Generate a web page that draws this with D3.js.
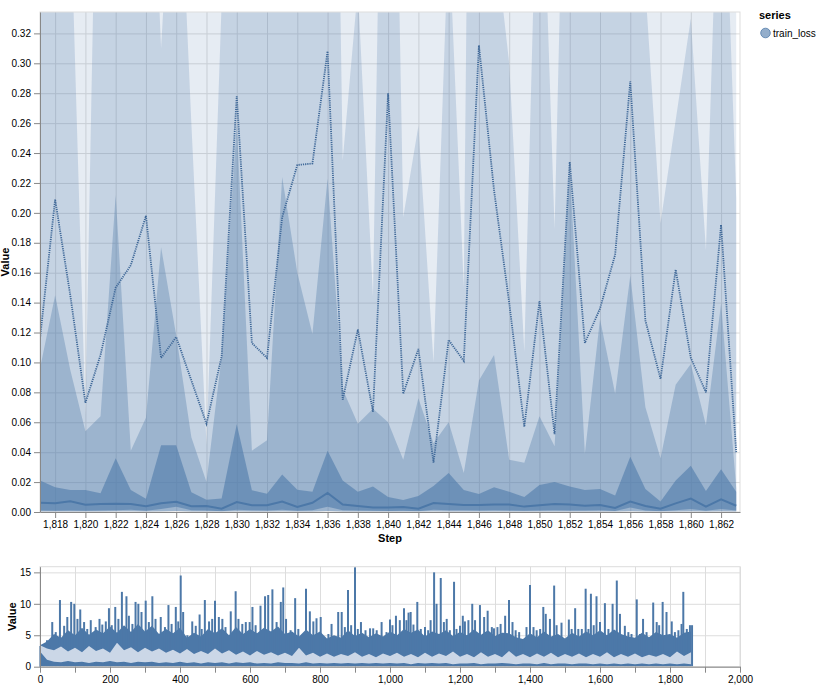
<!DOCTYPE html>
<html>
<head>
<meta charset="utf-8">
<script src="https://cdn.jsdelivr.net/npm/d3@7"></script>
<style>
body { margin: 0; background: #fff; }
text { font-family: "Liberation Sans", Arial, Helvetica, sans-serif; }
</style>
</head>
<body>
<div id="chart"></div>
<script>
// ---- detail view: steps 1817..1863 ----
const steps = [1817, 1818, 1819, 1820, 1821, 1822, 1823, 1824, 1825, 1826, 1827, 1828, 1829, 1830, 1831, 1832,
    1833, 1834, 1835, 1836, 1837, 1838, 1839, 1840, 1841, 1842, 1843, 1844, 1845, 1846, 1847, 1848,
    1849, 1850, 1851, 1852, 1853, 1854, 1855, 1856, 1857, 1858, 1859, 1860, 1861, 1862, 1863]

// outer band (runs off the top of the view everywhere)
const maxVals = [0.52, 0.61, 0.73, 0.48, 0.66, 0.8, 0.58, 0.7, 0.55, 0.62, 0.5, 0.45, 0.57, 0.95, 0.6, 0.52,
    0.7, 0.66, 0.68, 1.1, 0.49, 0.58, 0.46, 0.9, 0.5, 0.6, 0.42, 0.63, 0.55, 1.2, 0.7, 0.6,
    0.45, 0.62, 0.44, 0.85, 0.56, 0.64, 0.7, 0.98, 0.6, 0.5, 0.66, 0.57, 0.5, 0.8, 0.4]
const minVals = [0.0002, 0.0001, 0.0002, 0.0001, 0.0002, 0.0003, 0.0003, 0.0001, 0.0004, 0.0006, 0.0002, 0.0002, 0.0001, 0.0003, 0.0002, 0.0002,
    0.0003, 0.0001, 0.0002, 0.0006, 0.0002, 0.0002, 0.0001, 0.0001, 0.0001, 0.0001, 0.0003, 0.0002, 0.0002, 0.0002, 0.0002, 0.0002,
    0.0001, 0.0002, 0.0002, 0.0002, 0.0002, 0.0002, 0.0001, 0.0005, 0.0002, 0.0001, 0.0002, 0.0004, 0.0001, 0.0004, 0.0002]
const bandBHi = [0.45, 0.50, 0.41, 0.065, 0.60, 0.62, 0.50, 0.55, 0.31, 0.49, 0.26, 0.045, 0.34, 0.62, 0.50, 0.48,
    0.58, 0.55, 0.60, 0.90, 0.235, 0.35, 0.144, 0.75, 0.197, 0.258, 0.100, 0.39, 0.15, 1.2, 0.39, 0.30,
    0.107, 0.50, 0.189, 0.62, 0.55, 0.50, 0.58, 0.70, 0.35, 0.193, 0.262, 0.33, 0.175, 0.50, 0.21]
const bandCHi = [0.096, 0.145, 0.095, 0.054, 0.064, 0.212, 0.041, 0.063, 0.177, 0.118, 0.050, 0.020, 0.104, 0.260, 0.041, 0.048,
    0.224, 0.160, 0.119, 0.223, 0.082, 0.059, 0.069, 0.060, 0.035, 0.076, 0.046, 0.060, 0.026, 0.088, 0.105, 0.035,
    0.033, 0.064, 0.044, 0.231, 0.039, 0.129, 0.079, 0.158, 0.070, 0.036, 0.085, 0.099, 0.058, 0.1395, 0.016]
const bandDHi = [0.021, 0.0165, 0.0147, 0.0147, 0.0125, 0.036, 0.0147, 0.0088, 0.0447, 0.0447, 0.0132, 0.0082, 0.009, 0.0586, 0.0146, 0.0122,
    0.025, 0.0148, 0.0135, 0.041, 0.021, 0.0135, 0.017, 0.010, 0.008, 0.0107, 0.0174, 0.026, 0.0147, 0.012, 0.0165, 0.0136,
    0.010, 0.018, 0.020, 0.017, 0.0147, 0.0154, 0.011, 0.037, 0.0154, 0.007, 0.021, 0.031, 0.014, 0.0285, 0.0136]
const bandDLo = [0.001, 0.0008, 0.001, 0.0008, 0.001, 0.0012, 0.0015, 0.0008, 0.002, 0.0035, 0.0012, 0.001, 0.0005, 0.0015, 0.0012, 0.001,
    0.0015, 0.0008, 0.0012, 0.0035, 0.0012, 0.001, 0.0008, 0.0006, 0.0008, 0.0005, 0.0015, 0.0012, 0.0012, 0.001, 0.0012, 0.001,
    0.0008, 0.001, 0.0012, 0.001, 0.001, 0.0012, 0.0006, 0.003, 0.001, 0.0005, 0.0012, 0.002, 0.0008, 0.002, 0.001]
const meanVals = [0.116, 0.209, 0.145, 0.073, 0.105, 0.150, 0.165, 0.198, 0.103, 0.117, 0.088, 0.059, 0.104, 0.278, 0.113, 0.103,
    0.197, 0.232, 0.233, 0.308, 0.075, 0.122, 0.067, 0.280, 0.079, 0.109, 0.033, 0.115, 0.101, 0.312, 0.215, 0.140,
    0.057, 0.141, 0.052, 0.234, 0.113, 0.136, 0.172, 0.288, 0.128, 0.089, 0.162, 0.103, 0.080, 0.192, 0.040]
const medianVals = [0.0062, 0.0058, 0.0071, 0.0049, 0.0053, 0.0055, 0.0053, 0.0038, 0.0058, 0.0069, 0.0038, 0.004, 0.0022, 0.0067, 0.0045, 0.0045,
    0.007, 0.0033, 0.0062, 0.0127, 0.005, 0.004, 0.003, 0.003, 0.0033, 0.0022, 0.006, 0.0053, 0.0047, 0.0047, 0.005, 0.005,
    0.0036, 0.0045, 0.0053, 0.005, 0.0042, 0.0047, 0.0027, 0.007, 0.004, 0.0022, 0.0058, 0.009, 0.0036, 0.0085, 0.0042]

const xTicks = [1818, 1820, 1822, 1824, 1826, 1828, 1830, 1832, 1834, 1836, 1838, 1840, 1842, 1844, 1846, 1848,
    1850, 1852, 1854, 1856, 1858, 1860, 1862]
const yTicks = [0, 0.02, 0.04, 0.06, 0.08, 0.10, 0.12, 0.14, 0.16, 0.18, 0.20, 0.22, 0.24, 0.26, 0.28, 0.30, 0.32]

// ---- overview: whole run ----
const ovSpikeSteps = [0, 10, 20, 28, 35, 45, 57, 69, 78, 89, 98, 107, 115, 126, 135, 145, 159, 170, 178, 188,
    197, 205, 215, 224, 234, 247, 254, 264, 273, 281, 290, 302, 311, 321, 330, 345, 357, 367, 376, 388,
    395, 402, 409, 421, 435, 445, 456, 462, 471, 483, 492, 500, 511, 521, 530, 545, 559, 567, 578, 588,
    599, 607, 616, 630, 643, 652, 664, 676, 688, 695, 703, 716, 729, 738, 750, 760, 771, 781, 790, 802,
    814, 824, 833, 843, 852, 862, 871, 880, 889, 900, 908, 917, 930, 943, 952, 962, 976, 990, 1000, 1007,
    1017, 1028, 1040, 1047, 1053, 1059, 1067, 1078, 1088, 1100, 1109, 1116, 1126, 1133, 1145, 1154, 1162, 1171, 1183, 1190,
    1200, 1208, 1214, 1224, 1235, 1243, 1257, 1269, 1279, 1291, 1297, 1307, 1316, 1329, 1340, 1350, 1359, 1369, 1381, 1390,
    1400, 1410, 1419, 1429, 1438, 1445, 1457, 1469, 1476, 1490, 1500, 1511, 1519, 1529, 1538, 1548, 1559, 1567, 1574, 1582,
    1590, 1600, 1614, 1624, 1636, 1648, 1657, 1671, 1681, 1690, 1705, 1714, 1723, 1733, 1752, 1762, 1769, 1779, 1790, 1805,
    1814, 1824, 1833, 1838, 1848, 1857, 1863]
const ovSpikeVals = [3.3, 3.5, 4.2, 3.6, 7.1, 5.5, 10.6, 6.5, 7.9, 10.3, 10.0, 7.6, 9.1, 7.1, 6.0, 7.4, 6.3, 7.6, 6.7, 7.2,
    9.3, 6.6, 9.5, 7.6, 11.9, 11.2, 8.1, 6.8, 10.3, 10.0, 8.7, 10.5, 7.1, 11.2, 7.6, 7.9, 6.3, 9.8, 6.8, 9.5,
    7.2, 14.5, 8.7, 5.0, 7.2, 6.5, 8.3, 6.0, 10.6, 7.2, 7.6, 10.5, 7.9, 7.6, 6.3, 8.8, 12.0, 7.6, 6.8, 7.1,
    7.1, 9.5, 6.6, 9.7, 11.2, 11.4, 12.3, 7.1, 10.3, 12.6, 7.6, 5.8, 10.9, 6.0, 5.0, 12.4, 8.8, 7.2, 7.7, 7.9,
    4.4, 5.2, 6.8, 4.4, 8.7, 8.7, 6.3, 12.2, 6.6, 15.8, 6.0, 7.1, 5.8, 6.1, 6.1, 5.8, 7.1, 5.5, 7.5, 6.6,
    8.1, 7.4, 9.3, 7.4, 8.6, 8.7, 6.7, 10.3, 6.0, 6.3, 5.8, 7.4, 15.0, 10.0, 14.1, 7.1, 7.6, 5.8, 13.5, 6.0,
    6.5, 8.1, 7.2, 7.4, 10.0, 7.4, 9.8, 7.9, 8.9, 6.3, 6.1, 6.3, 6.8, 8.1, 10.6, 7.1, 5.8, 5.5, 4.4, 6.3,
    13.0, 6.3, 5.8, 6.0, 9.5, 8.4, 7.6, 12.9, 6.6, 7.0, 4.4, 7.5, 6.0, 9.3, 6.0, 6.0, 12.4, 6.0, 11.6, 6.6,
    11.2, 7.1, 10.1, 6.0, 10.0, 13.7, 8.4, 6.5, 5.5, 5.2, 10.7, 5.2, 7.6, 5.5, 10.2, 7.1, 6.6, 10.3, 8.7, 7.2,
    5.5, 5.8, 6.8, 11.9, 6.0, 6.6, 6.6]

// sampled every 20 steps
const ovSteps = [0, 20, 40, 60, 80, 100, 120, 140, 160, 180, 200, 220, 240, 260, 280, 300, 320, 340, 360, 380,
    400, 420, 440, 460, 480, 500, 520, 540, 560, 580, 600, 620, 640, 660, 680, 700, 720, 740, 760, 780,
    800, 820, 840, 860, 880, 900, 920, 940, 960, 980, 1000, 1020, 1040, 1060, 1080, 1100, 1120, 1140, 1160, 1180,
    1200, 1220, 1240, 1260, 1280, 1300, 1320, 1340, 1360, 1380, 1400, 1420, 1440, 1460, 1480, 1500, 1520, 1540, 1560, 1580,
    1600, 1620, 1640, 1660, 1680, 1700, 1720, 1740, 1760, 1780, 1800, 1820, 1840, 1860]
const ovBaseVals = [3.4, 4.0, 5.2, 4.6, 5.8, 5.0, 6.2, 5.1, 5.9, 5.3, 6.4, 5.4, 6.6, 5.5, 6.8, 5.6, 6.5, 5.2, 6.0, 5.3,
    6.2, 4.6, 5.4, 4.8, 6.0, 5.3, 6.1, 5.0, 6.3, 5.2, 6.0, 5.3, 6.2, 5.6, 6.4, 5.2, 5.6, 4.8, 5.9, 5.0,
    5.6, 4.5, 5.0, 4.6, 5.8, 4.9, 5.4, 4.7, 5.3, 4.8, 5.6, 5.0, 6.0, 5.4, 5.9, 4.8, 5.6, 5.2, 5.8, 4.9,
    5.5, 5.0, 5.9, 5.1, 5.8, 4.9, 5.4, 5.3, 4.7, 4.4, 5.3, 4.7, 5.6, 4.8, 5.2, 4.5, 5.4, 4.8, 5.6, 5.0,
    5.8, 5.0, 5.9, 5.2, 4.8, 4.6, 5.4, 4.7, 5.5, 5.0, 5.2, 4.6, 5.4, 5.6]
const ovLightHi = [3.4, 2.9, 2.6, 3.2, 2.4, 3.0, 2.3, 3.3, 2.5, 2.9, 2.2, 3.8, 2.6, 3.1, 2.3, 3.0, 2.4, 2.9, 2.2, 2.7,
    2.1, 2.8, 2.0, 2.5, 2.0, 2.9, 2.1, 2.6, 1.9, 2.4, 1.8, 2.5, 1.9, 2.3, 1.8, 2.2, 1.7, 3.0, 1.8, 2.2,
    1.6, 2.1, 1.6, 2.0, 1.7, 2.3, 1.6, 2.0, 1.5, 2.1, 1.7, 2.2, 1.6, 2.0, 1.5, 2.2, 1.6, 2.1, 1.7, 2.4,
    1.6, 2.0, 1.5, 2.3, 1.6, 2.0, 1.5, 2.5, 1.6, 2.0, 1.5, 2.1, 1.6, 2.2, 1.5, 2.0, 1.6, 2.1, 1.5, 2.0,
    1.6, 2.3, 1.5, 2.0, 1.6, 2.1, 1.5, 1.9, 1.6, 2.0, 1.5, 2.4, 1.7, 2.3]
const ovLightLo = [2.4, 1.1, 0.8, 0.7, 0.9, 0.7, 0.8, 0.6, 0.8, 0.7, 0.9, 0.7, 0.8, 0.6, 0.8, 0.7, 0.8, 0.6, 0.7, 0.6,
    0.8, 0.6, 0.7, 0.5, 0.7, 0.6, 0.7, 0.5, 0.7, 0.6, 0.7, 0.5, 0.6, 0.5, 0.7, 0.6, 0.6, 0.5, 0.7, 0.5,
    0.6, 0.5, 0.6, 0.5, 0.6, 0.5, 0.6, 0.5, 0.6, 0.5, 0.6, 0.5, 0.6, 0.4, 0.6, 0.5, 0.6, 0.5, 0.6, 0.4,
    0.5, 0.5, 0.6, 0.4, 0.5, 0.5, 0.6, 0.5, 0.4, 0.5, 0.5, 0.4, 0.6, 0.4, 0.5, 0.5, 0.4, 0.5, 0.5, 0.4,
    0.5, 0.4, 0.5, 0.4, 0.5, 0.4, 0.5, 0.4, 0.5, 0.4, 0.5, 0.4, 0.5, 0.4]

const ovXTicks = [0, 100, 200, 300, 400, 500, 600, 700, 800, 900, 1000, 1100, 1200, 1300, 1400, 1500, 1600, 1700, 1800, 1900, 2000]
const ovYTicks = [0, 5, 10, 15]

// ---- layout ----
const width = 822
const height = 688
const main = { left: 40, top: 12, width: 700, height: 500 }
const ov = { left: 40, top: 566.7, width: 700, height: 100 }
const color = "#4c78a8"

const svg = d3.select("div#chart").append("svg").attr("width", width).attr("height", height)

const rows = steps.map((s, i) => ({
    step: s, max: maxVals[i], min: minVals[i], b: bandBHi[i], c: bandCHi[i],
    d: bandDHi[i], dLo: bandDLo[i], mean: meanVals[i], median: medianVals[i]
}))

const x = d3.scaleLinear().domain([1817, 1863.25]).range([0, main.width])
const y = d3.scaleLinear().domain([0, 0.3343]).range([main.height, 0])

svg.append("clipPath").attr("id", "clipMain")
    .append("rect").attr("width", main.width).attr("height", main.height)

const mainGroup = svg.append("g").attr("transform", `translate(${main.left}, ${main.top})`)

// grid
mainGroup.append("g").attr("class", "grid")
    .attr("transform", `translate(0, ${main.height})`)
    .call(d3.axisBottom(x).tickValues(xTicks).tickSize(-main.height).tickFormat(""))
mainGroup.append("g").attr("class", "grid")
    .call(d3.axisLeft(y).tickValues(yTicks).tickSize(-main.width).tickFormat(""))
mainGroup.selectAll(".grid line").attr("stroke", "#ddd")
mainGroup.selectAll(".grid .domain").remove()

const marks = mainGroup.append("g").attr("clip-path", "url(#clipMain)")

const bands = [
    { lo: "min", hi: "max", opacity: 0.14 },
    { lo: "min", hi: "b", opacity: 0.21 },
    { lo: "min", hi: "c", opacity: 0.34 },
    { lo: "dLo", hi: "d", opacity: 0.58 },
]
bands.forEach(b => {
    marks.append("path").datum(rows)
        .attr("fill", color).attr("fill-opacity", b.opacity)
        .attr("d", d3.area()
            .x(d => x(d.step))
            .y0(d => y(d[b.lo]))
            .y1(d => y(d[b.hi])))
})

marks.append("path").datum(rows)
    .attr("fill", "none").attr("stroke", color).attr("stroke-width", 2)
    .attr("d", d3.line().x(d => x(d.step)).y(d => y(d.median)))

marks.append("path").datum(rows)
    .attr("fill", "none").attr("stroke", "#3f6898").attr("stroke-width", 1.8)
    .attr("stroke-dasharray", "1.2,1")
    .attr("d", d3.line().x(d => x(d.step)).y(d => y(d.mean)))

// view border
mainGroup.append("rect").attr("width", main.width).attr("height", main.height)
    .attr("fill", "none").attr("stroke", "#ddd")

// axes
mainGroup.append("g").attr("class", "axis")
    .attr("transform", `translate(0, ${main.height})`)
    .call(d3.axisBottom(x).tickValues(xTicks).tickFormat(d3.format(",")).tickSizeOuter(0))
mainGroup.append("g").attr("class", "axis")
    .call(d3.axisLeft(y).tickValues(yTicks).tickFormat(d3.format(".2f")).tickSizeOuter(0))

mainGroup.append("text").attr("x", main.width / 2).attr("y", main.height + 30)
    .attr("text-anchor", "middle").attr("font-size", 11).attr("font-weight", "bold").text("Step")
svg.append("text").attr("transform", `translate(9, ${main.top + main.height / 2}) rotate(-90)`)
    .attr("text-anchor", "middle").attr("font-size", 11).attr("font-weight", "bold").text("Value")

// legend
const legend = svg.append("g").attr("transform", "translate(759, 0)")
legend.append("text").attr("x", 0).attr("y", 19).attr("font-size", 11).attr("font-weight", "bold").text("series")
legend.append("circle").attr("cx", 6.5).attr("cy", 33).attr("r", 4.8)
    .attr("fill", color).attr("fill-opacity", 0.6).attr("stroke", color).attr("stroke-opacity", 0.75)
legend.append("text").attr("x", 14).attr("y", 36.5).attr("font-size", 10).text("train_loss")

// ---- overview ----
const ox = d3.scaleLinear().domain([0, 2000]).range([0, ov.width])
const oy = d3.scaleLinear().domain([0, 15.9]).range([ov.height, 0])

const ovGroup = svg.append("g").attr("transform", `translate(${ov.left}, ${ov.top})`)

ovGroup.append("g").attr("class", "grid")
    .attr("transform", `translate(0, ${ov.height})`)
    .call(d3.axisBottom(ox).tickValues(ovXTicks).tickSize(-ov.height).tickFormat(""))
ovGroup.append("g").attr("class", "grid")
    .call(d3.axisLeft(oy).tickValues(ovYTicks).tickSize(-ov.width).tickFormat(""))
ovGroup.selectAll(".grid line").attr("stroke", "#ddd")
ovGroup.selectAll(".grid .domain").remove()

const ovRows = ovSteps.map((s, i) => ({ step: s, base: ovBaseVals[i], lo: ovLightLo[i], hi: ovLightHi[i] }))
const spikeRows = ovSpikeSteps.map((s, i) => ({ step: s, v: ovSpikeVals[i] }))

ovGroup.append("path").datum(ovRows)
    .attr("fill", color)
    .attr("d", d3.area().x(d => ox(d.step)).y0(oy(0)).y1(d => oy(d.base)))

ovGroup.selectAll("line.spike").data(spikeRows).join("line")
    .attr("class", "spike")
    .attr("x1", d => ox(d.step)).attr("x2", d => ox(d.step))
    .attr("y1", oy(0)).attr("y2", d => oy(d.v))
    .attr("stroke", color).attr("stroke-width", 2)

ovGroup.append("path").datum(ovRows)
    .attr("fill", "#e2e8f2").attr("fill-opacity", 0.85)
    .attr("d", d3.area().x(d => ox(d.step)).y0(d => oy(d.lo)).y1(d => oy(d.hi)))

ovGroup.append("rect").attr("width", ov.width).attr("height", ov.height)
    .attr("fill", "none").attr("stroke", "#ddd")

ovGroup.append("g").attr("class", "axis")
    .attr("transform", `translate(0, ${ov.height})`)
    .call(d3.axisBottom(ox).tickValues(ovXTicks)
        .tickFormat(d => d % 200 === 0 ? d3.format(",")(d) : "").tickSizeOuter(0))
ovGroup.append("g").attr("class", "axis")
    .call(d3.axisLeft(oy).tickValues(ovYTicks).tickSizeOuter(0))

svg.append("text").attr("transform", `translate(16, ${ov.top + ov.height / 2}) rotate(-90)`)
    .attr("text-anchor", "middle").attr("font-size", 11).attr("font-weight", "bold").text("Value")

// axis styling
svg.selectAll(".axis .domain").attr("stroke", "#888")
svg.selectAll(".axis line").attr("stroke", "#888")
svg.selectAll(".axis text").attr("font-size", 10).attr("fill", "#000")
    .attr("font-family", "'Liberation Sans', Arial, sans-serif")
</script>
</body>
</html>
